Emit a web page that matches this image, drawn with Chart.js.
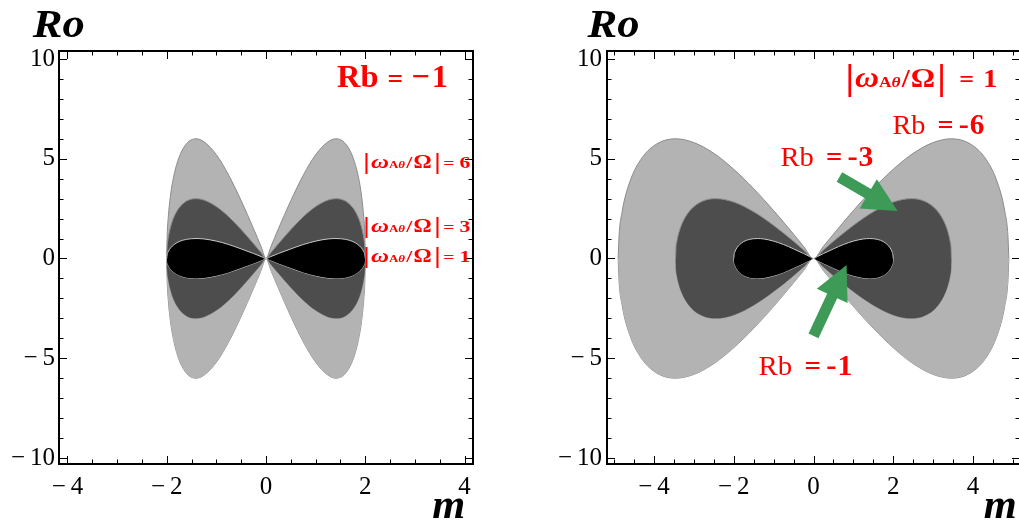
<!DOCTYPE html>
<html lang="en">
<head>
<meta charset="UTF-8">
<title>Ro vs m regions</title>
<script src="https://cdn.jsdelivr.net/npm/chart.js"></script>
<style>
    body { margin: 0; background: #fff; overflow: hidden; }
    #wrap { position: relative; width: 1019px; height: 527px; }
    #left { position: absolute; left: 0; top: 0; }
    #right { position: absolute; left: 505px; top: 0; }
</style>
</head>
<body>
<div id="wrap">
    <canvas id="left" width="505" height="527"></canvas>
    <canvas id="right" width="516" height="527"></canvas>
</div>
<script>
// upper boundary of the right lobe (m >= 0); lobes are mirrored in m and Ro
const mHalf = [0, 0.1, 0.25, 0.5, 0.75, 1, 1.25, 1.41, 1.6, 1.75, 1.85, 1.92, 1.97, 1.99, 2];
const roW1 = [0, 0.10, 0.25, 0.48, 0.70, 0.87, 0.98, 1.00, 0.96, 0.85, 0.70, 0.54, 0.34, 0.20, 0];
const roW3 = [0, 0.30, 0.74, 1.45, 2.09, 2.60, 2.93, 3.00, 2.88, 2.54, 2.11, 1.61, 1.02, 0.60, 0];
const roW6 = [0, 0.60, 1.49, 2.90, 4.17, 5.20, 5.85, 6.00, 5.76, 5.08, 4.22, 3.23, 2.04, 1.19, 0];

const mHalfRb3 = [0, 0.25, 0.5, 1, 1.5, 2, 2.45, 2.8, 3.1, 3.3, 3.4, 3.43, 3.45, 3.46];
const roRb3 = [0, 0.43, 0.86, 1.66, 2.34, 2.83, 3.00, 2.86, 2.40, 1.74, 1.13, 0.83, 0.54, 0];
const mHalfRb6 = [0, 0.25, 0.5, 1, 1.5, 2, 2.5, 3, 3.46, 3.9, 4.3, 4.6, 4.8, 4.88, 4.9];
const roRb6 = [0, 0.61, 1.22, 2.40, 3.50, 4.47, 5.27, 5.81, 6.00, 5.78, 5.05, 3.88, 2.35, 1.05, 0];

// ticks
const yMajor = [-10, -5, 0, 5, 10];
const yMinor = [-9, -8, -7, -6, -4, -3, -2, -1, 1, 2, 3, 4, 6, 7, 8, 9];
const xMajor = [-4, -2, 0, 2, 4];
const xMinorL = [-3.5, -3, -2.5, -1.5, -1, -0.5, 0.5, 1, 1.5, 2.5, 3, 3.5];
const xMinorR = [-5, -4.5, -3.5, -3, -2.5, -1.5, -1, -0.5, 0.5, 1, 1.5, 2.5, 3, 3.5, 4.5, 5];

const SERIF = "'Liberation Serif', 'Times New Roman', serif";
const RED = '#ff0000';
const GREEN = '#3d9b57';

function outline(xs, ys, sign) {
    const pts = [];
    for (let i = xs.length - 1; i > 0; i--) pts.push({x: -xs[i], y: sign * ys[i]});
    for (let i = 0; i < xs.length; i++) pts.push({x: xs[i], y: sign * ys[i]});
    return pts;
}

function region(xs, ys, fillColor, edge, order) {
    const common = {
        showLine: true, pointRadius: 0, borderWidth: 1, borderColor: edge,
        cubicInterpolationMode: 'monotone', order: order
    };
    return [
        Object.assign({data: outline(xs, ys, 1), fill: '+1', backgroundColor: fillColor}, common),
        Object.assign({data: outline(xs, ys, -1), fill: false}, common)
    ];
}

// |ω_Aθ/Ω| = n  as rich text parts: [text, style, size, gapBefore, dy]
function omegaLabel(n, s, g1, g2) {
    return [
        ['|', 'bold', s * 1.35, 0, s * 0.08],
        ['\u03c9', 'bold italic', s * 1.15, 1],
        ['A', 'bold', s * 0.6, 0],
        ['\u03b8', 'bold italic', s * 0.6, 0],
        ['/', 'bold', s, 1],
        ['\u03a9', 'bold', s * 1.05, 1],
        ['|', 'bold', s * 1.35, 2, s * 0.08],
        ['=', 'bold', s * 0.9, g1],
        [n, 'bold', s, g2]
    ];
}

function drawRich(ctx, x, y, t) {
    ctx.fillStyle = t.color || RED;
    ctx.textBaseline = 'alphabetic';
    ctx.textAlign = 'left';
    let natural = 0;
    t.parts.forEach(p => {
        ctx.font = `${p[1]} ${p[2]}px ${SERIF}`;
        natural += (p[3] || 0) + ctx.measureText(p[0]).width;
    });
    const sx = t.w ? t.w / natural : 1;
    ctx.save();
    ctx.translate(x, y);
    ctx.scale(sx, 1);
    let cx = 0;
    t.parts.forEach(p => {
        cx += p[3] || 0;
        ctx.font = `${p[1]} ${p[2]}px ${SERIF}`;
        ctx.fillText(p[0], cx, p[4] || 0);
        cx += ctx.measureText(p[0]).width;
    });
    ctx.restore();
}

function drawArrow(ctx, x0, y0, x1, y1, shaft, headL, headW) {
    const L = Math.hypot(x1 - x0, y1 - y0);
    const ux = (x1 - x0) / L, uy = (y1 - y0) / L, nx = -uy, ny = ux;
    const bx = x1 - ux * headL, by = y1 - uy * headL;
    ctx.beginPath();
    ctx.moveTo(x0 + nx * shaft / 2, y0 + ny * shaft / 2);
    ctx.lineTo(bx + nx * shaft / 2, by + ny * shaft / 2);
    ctx.lineTo(bx + nx * headW / 2, by + ny * headW / 2);
    ctx.lineTo(x1, y1);
    ctx.lineTo(bx - nx * headW / 2, by - ny * headW / 2);
    ctx.lineTo(bx - nx * shaft / 2, by - ny * shaft / 2);
    ctx.lineTo(x0 - nx * shaft / 2, y0 - ny * shaft / 2);
    ctx.closePath();
    ctx.fill();
}

// frame, inward ticks on all four sides, axis names, labels, arrows
const deco = {
    id: 'deco',
    afterDraw(chart, args, o) {
        const {ctx, chartArea: a, scales: {x, y}} = chart;
        ctx.save();
        ctx.strokeStyle = '#000';
        ctx.lineWidth = 1;
        ctx.beginPath();
        const tickX = (vals, len) => vals.forEach(v => {
            const p = Math.round(x.getPixelForValue(v)) + 0.5;
            ctx.moveTo(p, a.bottom); ctx.lineTo(p, a.bottom - len);
            ctx.moveTo(p, a.top); ctx.lineTo(p, a.top + len);
        });
        const tickY = (vals, len) => vals.forEach(v => {
            const p = Math.round(y.getPixelForValue(v)) + 0.5;
            ctx.moveTo(a.left, p); ctx.lineTo(a.left + len, p);
            ctx.moveTo(a.right, p); ctx.lineTo(a.right - len, p);
        });
        tickX(xMajor, 8); tickX(o.xMinor, 4.5);
        tickY(yMajor, 8); tickY(yMinor, 4.5);
        ctx.stroke();
        ctx.lineWidth = 2;
        ctx.strokeRect(a.left, a.top, a.right - a.left, a.bottom - a.top);

        ctx.fillStyle = GREEN;
        (o.arrows || []).forEach(ar => {
            drawArrow(ctx, x.getPixelForValue(ar[0]), y.getPixelForValue(ar[1]),
                x.getPixelForValue(ar[2]), y.getPixelForValue(ar[3]), 11, 34, 34);
        });

        o.texts.forEach(t => drawRich(ctx, x.getPixelForValue(t.at[0]), y.getPixelForValue(t.at[1]), t));
        ctx.restore();
    }
};

const tickText = v => v < 0 ? '\u2212\u2009' + Math.abs(v) : String(v);

function makeChart(id, datasets, xMax, yAxisWidth, padRight, labelPad, xMinor, texts, arrows) {
    return new Chart(document.getElementById(id), {
        type: 'scatter',
        data: {datasets: datasets},
        options: {
            responsive: false,
            animation: false,
            devicePixelRatio: 1,
            layout: {padding: {top: 51, right: padRight, left: 0, bottom: 0}},
            plugins: {legend: {display: false}, tooltip: {enabled: false}, deco: {xMinor, texts, arrows}},
            scales: {
                x: {
                    type: 'linear', min: -xMax, max: xMax,
                    grid: {display: false, drawTicks: false}, border: {display: false},
                    afterBuildTicks: s => { s.ticks = xMajor.map(v => ({value: v})); },
                    afterFit: s => { s.height = 63; },
                    ticks: {
                        padding: 8, autoSkip: false, maxRotation: 0, color: '#000',
                        font: {family: SERIF, size: 25}, callback: tickText
                    }
                },
                y: {
                    type: 'linear', min: -10.3, max: 10.4,
                    grid: {display: false, drawTicks: false}, border: {display: false},
                    afterBuildTicks: s => { s.ticks = yMajor.map(v => ({value: v})); },
                    afterFit: s => { s.width = yAxisWidth; },
                    ticks: {
                        padding: labelPad, autoSkip: false, color: '#000',
                        font: {family: SERIF, size: 25}, callback: tickText
                    }
                }
            }
        },
        plugins: [deco]
    });
}

const LIGHT = '#b3b3b3', DARK = '#4d4d4d', BLACK = '#000000';

const axisNames = (roX, mX) => [
    {at: [roX, 11.1], w: 52, color: '#000', parts: [['Ro', 'bold italic', 41, 0]]},
    {at: [mX, -13.0], w: 33, color: '#000', parts: [['m', 'bold italic', 42, 0]]}
];

makeChart('left',
    [].concat(
        region(mHalf, roW1, BLACK, '#c8c8c8', 1),
        region(mHalf, roW3, DARK, '#8c8c8c', 2),
        region(mHalf, roW6, LIGHT, '#8c8c8c', 3)
    ),
    4.17, 59, 32, 4, xMinorL,
    axisNames(-4.70, 3.35).concat([
        {at: [1.43, 8.6], w: 111, parts: [['Rb', 'bold', 32, 0], ['=', 'bold', 27, 9, 1], ['\u2212', 'bold', 32, 8], ['1', 'bold', 32, 2]]},
        {at: [1.96, 4.54], w: 107, parts: omegaLabel('6', 17, 2, 4)},
        {at: [1.96, 1.33], w: 107, parts: omegaLabel('3', 17, 2, 4)},
        {at: [1.96, -0.18], w: 107, parts: omegaLabel('1', 17, 2, 4)}
    ]),
    []
);

const rbLabel = n => [['Rb', 'normal', 28, 0], ['=', 'bold', 28, 12], ['-', 'bold', 30, 5], [n, 'bold', 29, 1]];

makeChart('right',
    [].concat(
        region(mHalf, roW1, BLACK, '#c8c8c8', 1),
        region(mHalfRb3, roRb3, DARK, '#8c8c8c', 2),
        region(mHalfRb6, roRb6, LIGHT, '#8c8c8c', 3)
    ),
    5.18, 102, 1, 5, xMinorR,
    axisNames(-5.67, 4.27).concat([
        {at: [0.80, 8.6], w: 152, parts: omegaLabel('1', 26, 12, 8)},
        {at: [1.98, 6.24], w: 92, parts: rbLabel('6')},
        {at: [-0.83, 4.64], w: 93, parts: rbLabel('3')},
        {at: [-1.38, -5.84], w: 94, parts: rbLabel('1')}
    ]),
    [[0.65, 4.09, 2.11, 2.38], [0.0, -3.88, 0.83, -0.33]]
);
</script>
</body>
</html>
